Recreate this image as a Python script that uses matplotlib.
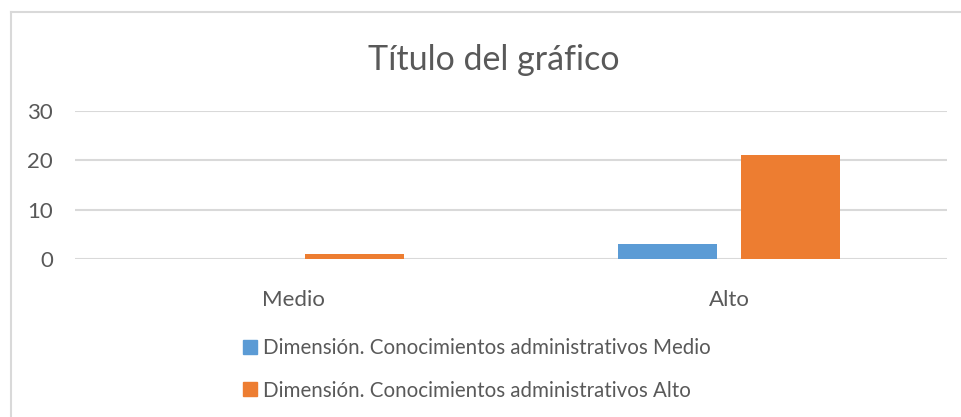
import matplotlib
matplotlib.use("Agg")
import matplotlib.pyplot as plt
from matplotlib.patches import Patch
from matplotlib.lines import Line2D
import numpy as np

categories = ["Medio", "Alto"]
series_names = ["Dimensión. Conocimientos administrativos Medio",
                "Dimensión. Conocimientos administrativos Alto"]
medio_values = [0, 3]
alto_values = [1, 21]
y_ticks = [0, 10, 20, 30]

colors = ["#5B9BD5", "#ED7D31"]
text_color = "#595959"
grid_color = "#D9D9D9"
FONT = "Lato"

W, H = 962, 417
fig = plt.figure(figsize=(W / 100, H / 100), dpi=100)
fig.patch.set_facecolor("white")

# chart border (top and left visible)
fig.add_artist(Line2D([10.5 / W, 10.5 / W], [0, 1 - 11.5 / H], transform=fig.transFigure,
                      color=grid_color, lw=1.5))
fig.add_artist(Line2D([10.5 / W, 1], [1 - 11.5 / H, 1 - 11.5 / H], transform=fig.transFigure,
                      color=grid_color, lw=1.5))

left, right = 75 / W, 947 / W
bottom = 1 - 259.3 / H
top = 1 - 111 / H
ax = fig.add_axes([left, bottom, right - left, top - bottom])

x = np.arange(len(categories))
bw = 0.227
off = 0.142
ax.bar(x - off, medio_values, bw, color=colors[0], label=series_names[0], zorder=3)
ax.bar(x + off, alto_values, bw, color=colors[1], label=series_names[1], zorder=3)

ax.set_xlim(-0.5, len(categories) - 0.5)
ax.set_ylim(0, 30)
ax.set_yticks(y_ticks)
ax.set_yticklabels([str(t) for t in y_ticks], fontsize=16, color=text_color, family=FONT)
ax.set_xticks(x)
ax.set_xticklabels(categories, fontsize=16, color=text_color, family=FONT)
ax.tick_params(axis="both", length=0)
ax.tick_params(axis="y", pad=16)
ax.tick_params(axis="x", pad=22)
for s in ax.spines.values():
    s.set_visible(False)
ax.yaxis.grid(True, color=grid_color, lw=1.5, zorder=0)
ax.set_axisbelow(True)

fig.text(494 / W, 1 - 60 / H, "Título del gráfico", ha="center", va="center",
         fontsize=24.5, color=text_color, family=FONT)

handles = [Patch(color=colors[0]), Patch(color=colors[1])]
leg = fig.legend(handles, series_names, loc="upper left",
                 bbox_to_anchor=(243 / W, 1 - 338 / H), frameon=False,
                 prop={"family": FONT, "size": 14.8}, labelcolor=text_color,
                 handlelength=0.66, handleheight=0.66, handletextpad=0.3,
                 labelspacing=1.1, borderaxespad=0, borderpad=0)

fig.savefig("out.png", dpi=100, facecolor="white")
